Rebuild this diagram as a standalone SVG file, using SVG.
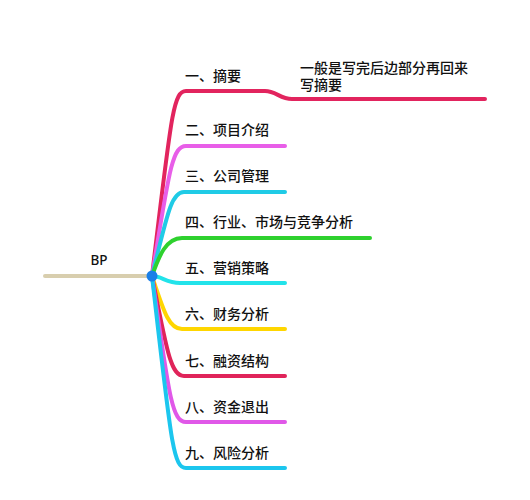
<svg xmlns="http://www.w3.org/2000/svg" width="530" height="500" viewBox="0 0 530 500">
<style>
.b{fill:none;stroke-width:4;stroke-linecap:round;stroke-linejoin:round}
.t{font-family:"Noto Sans CJK SC","Liberation Sans",sans-serif;font-size:14px;font-weight:500;fill:#111}
</style>
<rect width="530" height="500" fill="#fff"/>
<g id="connectors">
<path class="b" stroke="#d8ceae" d="M45,276 L152,276"/>
<path class="b" stroke="#e2245e" d="M152,276 C171,118 173,91 186,91 L265,91 C276,91 280,99 292,99 L485,99"/>
<path class="b" stroke="#e85ee8" d="M152,276 C169,172 172,146 186,146 L285,146"/>
<path class="b" stroke="#1fcbe6" d="M152,276 C167,216 171,192 184,192 L285,192"/>
<path class="b" stroke="#2ed12e" d="M152,276 C159,256 166,238 182,238 L370,238"/>
<path class="b" stroke="#22e3ea" d="M152,276 C162,276 166,283 180,283 L285,283"/>
<path class="b" stroke="#ffd600" d="M152,276 C164,312 169,329 182,329 L285,329"/>
<path class="b" stroke="#e0245a" d="M152,276 C167,352 171,376 184,376 L285,376"/>
<path class="b" stroke="#e058e8" d="M152,276 C169,396 172,422 186,422 L285,422"/>
<path class="b" stroke="#1cc6ee" d="M152,276 C171,441 173,468 186,468 L285,468"/>
</g>
<g id="root">
<text x="99" y="265" text-anchor="middle" font-family="Noto Sans, Liberation Sans, sans-serif" font-size="13.5" font-weight="500" fill="#111">BP</text>
<circle cx="152" cy="276" r="5.5" fill="#1a7fe8"/>
</g>
<g id="n1"><text class="t" x="185" y="81">一、摘要</text></g>
<g id="note1"><text class="t" x="300" y="73">一般是写完后边部分再回来<tspan x="300" y="89.5">写摘要</tspan></text></g>
<g id="n2"><text class="t" x="185" y="135">二、项目介绍</text></g>
<g id="n3"><text class="t" x="185" y="181">三、公司管理</text></g>
<g id="n4"><text class="t" x="185" y="227">四、行业、市场与竞争分析</text></g>
<g id="n5"><text class="t" x="185" y="273">五、营销策略</text></g>
<g id="n6"><text class="t" x="185" y="319">六、财务分析</text></g>
<g id="n7"><text class="t" x="185" y="366">七、融资结构</text></g>
<g id="n8"><text class="t" x="185" y="412">八、资金退出</text></g>
<g id="n9"><text class="t" x="185" y="458">九、风险分析</text></g>
</svg>
